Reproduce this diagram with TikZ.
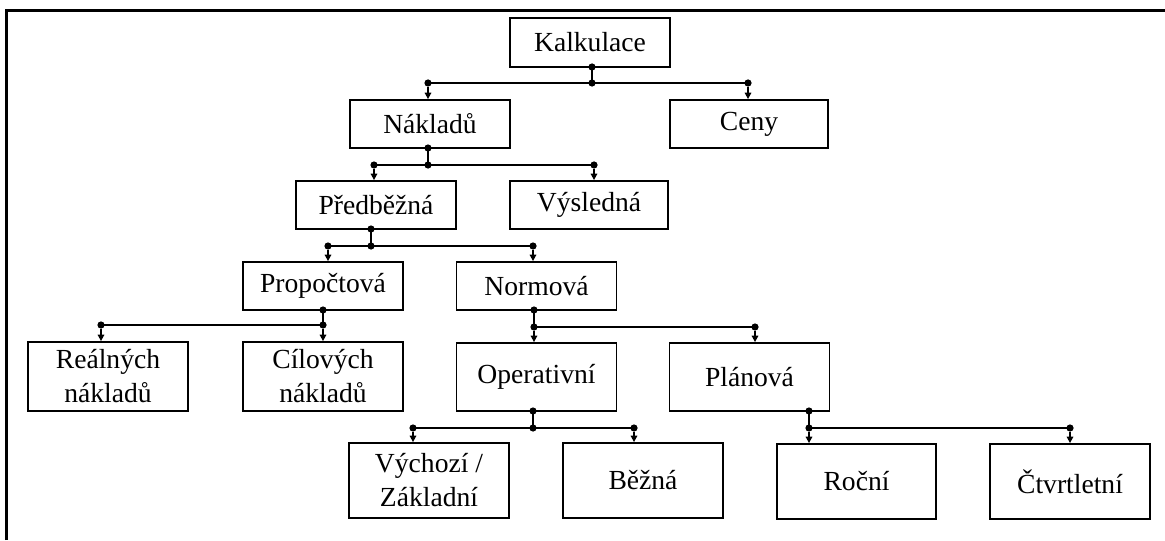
\documentclass[tikz,border=0pt]{standalone}
\usepackage{fontspec}
\setmainfont{Liberation Serif}
\usetikzlibrary{arrows.meta}
\begin{document}
\begin{tikzpicture}[x=0.5pt,y=-0.5pt,
  box/.style={draw, line width=0.9pt, align=center, inner sep=0pt, minimum width=80pt, font=\fontsize{13.8}{17}\selectfont},
  dot/.style={circle, fill, inner sep=0pt, minimum size=3.6pt},
  link/.style={line width=0.9pt},
  arr/.style={line width=0.9pt, -{Triangle[length=3.2pt,width=3.2pt]}}]
\useasboundingbox (0,0) rectangle (1165,540);
\draw[line width=1.5pt] (6.5,540) -- (6.5,10.5) -- (1165,10.5);
% boxes
\node[box, minimum height=24.5pt] (kalk) at (590,42.5) {Kalkulace};
\node[box, minimum height=24pt] (nakl) at (430,124) {Nákladů};
\node[box, minimum height=24pt, minimum width=79pt] (ceny) at (749,124) {Ceny};
\node[box, minimum height=24pt] (predb) at (376,205) {Předběžná};
\node[box, minimum height=24pt, minimum width=79pt] (vysl) at (589,205) {Výsledná};
\node[box, minimum height=24pt] (propo) at (323,286) {Propočtová};
\node[box, minimum height=24pt] (normo) at (536.5,286) {Normová};
\node[box, minimum height=34.5pt] (real) at (108,376.5) {Reálných\\nákladů};
\node[box, minimum height=34.5pt] (cilo) at (323,376.5) {Cílových\\nákladů};
\node[box, minimum height=34pt] (oper) at (536.5,377) {Operativní};
\node[box, minimum height=34pt] (plan) at (749.5,377) {Plánová};
\node[box, minimum height=37.5pt] (vych) at (429,480.5) {Výchozí /\\Základní};
\node[box, minimum height=37.5pt] (bezna) at (643,480.5) {Běžná};
\node[box, minimum height=37.5pt, minimum width=79.5pt] (rocni) at (856.5,481.5) {Roční};
\node[box, minimum height=37.5pt] (ctvrt) at (1070,481.5) {Čtvrtletní};
% dots
\node[dot] (kalk0) at (592,67) {};
\node[dot] (kalk1) at (592,83) {};
\node[dot] (kalk2) at (428,83) {};
\node[dot] (kalk3) at (748,83) {};
\node[dot] (nakl0) at (428,148) {};
\node[dot] (nakl1) at (428,165) {};
\node[dot] (nakl2) at (374,165) {};
\node[dot] (nakl3) at (594,165) {};
\node[dot] (predb0) at (371,229) {};
\node[dot] (predb1) at (371,246) {};
\node[dot] (predb2) at (328,246) {};
\node[dot] (predb3) at (533,246) {};
\node[dot] (propo0) at (323,310) {};
\node[dot] (propo1) at (323,325) {};
\node[dot] (propo2) at (101,325) {};
\node[dot] (normo0) at (534,310) {};
\node[dot] (normo1) at (534,327) {};
\node[dot] (normo3) at (755,327) {};
\node[dot] (oper0) at (533,411) {};
\node[dot] (oper1) at (533,428) {};
\node[dot] (oper2) at (413,428) {};
\node[dot] (oper3) at (634,428) {};
\node[dot] (plan0) at (809,411) {};
\node[dot] (plan1) at (809,428) {};
\node[dot] (plan3) at (1070,428) {};
% links
\draw[link] (kalk0.center) -- (kalk1.center);
\draw[link] (kalk2.center) -- (kalk3.center);
\draw[arr] (kalk2) -- (nakl.north -| kalk2);
\draw[arr] (kalk3) -- (ceny.north -| kalk3);
\draw[link] (nakl0.center) -- (nakl1.center);
\draw[link] (nakl2.center) -- (nakl3.center);
\draw[arr] (nakl2) -- (predb.north -| nakl2);
\draw[arr] (nakl3) -- (vysl.north -| nakl3);
\draw[link] (predb0.center) -- (predb1.center);
\draw[link] (predb2.center) -- (predb3.center);
\draw[arr] (predb2) -- (propo.north -| predb2);
\draw[arr] (predb3) -- (normo.north -| predb3);
\draw[link] (propo0.center) -- (propo1.center);
\draw[link] (propo2.center) -- (propo1.center);
\draw[arr] (propo2) -- (real.north -| propo2);
\draw[arr] (propo1) -- (cilo.north -| propo1);
\draw[link] (normo0.center) -- (normo1.center);
\draw[link] (normo1.center) -- (normo3.center);
\draw[arr] (normo1) -- (oper.north -| normo1);
\draw[arr] (normo3) -- (plan.north -| normo3);
\draw[link] (oper0.center) -- (oper1.center);
\draw[link] (oper2.center) -- (oper3.center);
\draw[arr] (oper2) -- (vych.north -| oper2);
\draw[arr] (oper3) -- (bezna.north -| oper3);
\draw[link] (plan0.center) -- (plan1.center);
\draw[link] (plan1.center) -- (plan3.center);
\draw[arr] (plan1) -- (rocni.north -| plan1);
\draw[arr] (plan3) -- (ctvrt.north -| plan3);
\end{tikzpicture}
\end{document}
